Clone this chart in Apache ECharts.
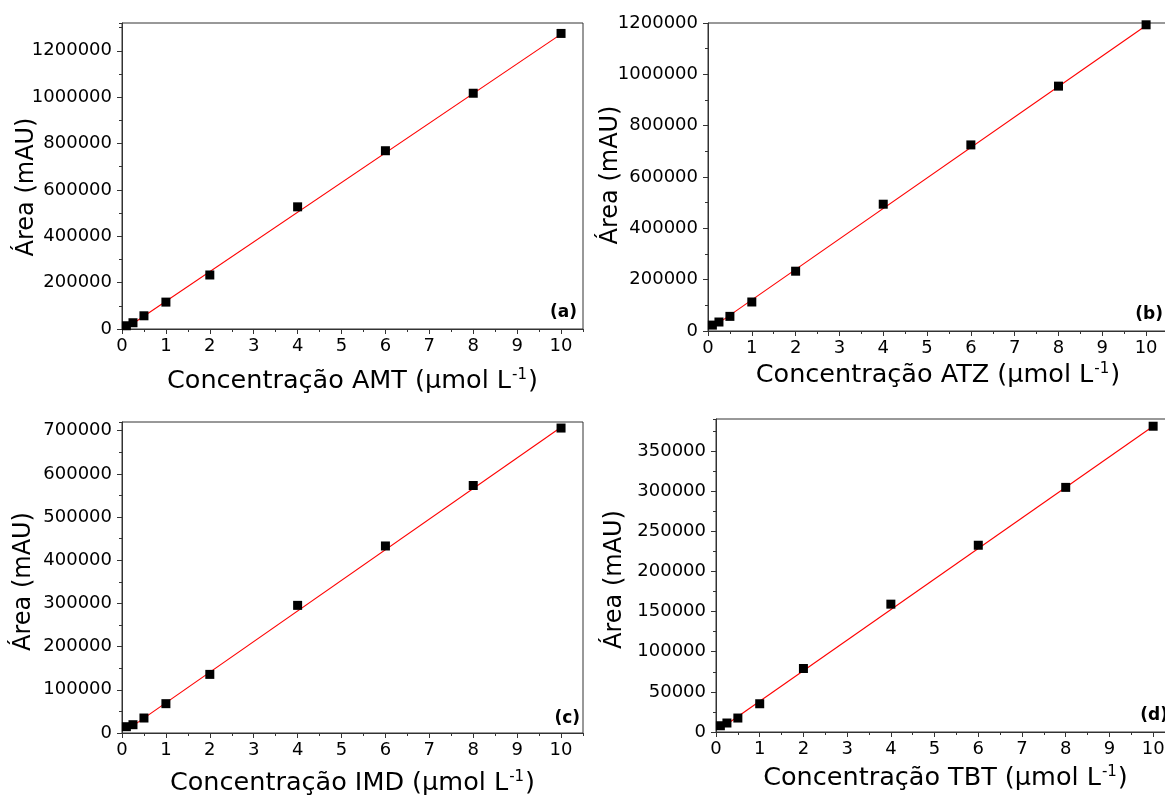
<!DOCTYPE html>
<html>
<head>
<meta charset="utf-8">
<script src="https://cdn.jsdelivr.net/npm/echarts@6/dist/echarts.min.js"></script>
<style>
html,body{margin:0;padding:0;background:#fff;}
#chart{width:1165px;height:796px;}
</style>
</head>
<body>
<div id="chart"></div>
<script>
// ---- data ----
const conc = [0.1, 0.25, 0.5, 1, 2, 4, 6, 8, 10];
const areaAMT = [14000, 27000, 57000, 116000, 233000, 527000, 769000, 1017000, 1275000];
const areaATZ = [23000, 35000, 57000, 113000, 233000, 494000, 725000, 954000, 1193000];
const areaIMD = [14600, 19200, 34700, 67900, 135700, 295500, 433000, 573000, 706000];
const areaTBT = [7800, 11200, 17400, 35200, 79100, 159300, 232700, 304800, 381000];
// fitted lines (end points)
const fitX = [0.1, 10];
const fitAMT = [4000, 1272000];
const fitATZ = [14000, 1190000];
const fitIMD = [6000, 708000];
const fitTBT = [4000, 381000];
// axis ranges / ticks
const xRange = [0, 10.5];
const xStep = 1, xMinorStep = 0.5;
const yRangeAMT = [0, 1320000], yStepAMT = 200000, yMinorAMT = 100000;
const yRangeATZ = [0, 1200000], yStepATZ = 200000, yMinorATZ = 100000;
const yRangeIMD = [0, 720000], yStepIMD = 100000, yMinorIMD = 50000;
const yRangeTBT = [0, 390000], yStepTBT = 50000, yMinorTBT = 25000;
const analytes = ['AMT', 'ATZ', 'IMD', 'TBT'];
const tags = ['(a)', '(b)', '(c)', '(d)'];
const yName = 'Área (mAU)';

const FONT = '"DejaVu Sans", sans-serif';
const AX = '#333';

const panels = [
  {grid:{left:122, top:23, width:461, height:306}, yr:yRangeAMT, ys:yStepAMT, ym:yMinorAMT, area:areaAMT, fit:fitAMT, tagXY:[577,313], yGap:83, yShift:11, xGap:39},
  {grid:{left:708, top:23, width:460, height:308}, yr:yRangeATZ, ys:yStepATZ, ym:yMinorATZ, area:areaATZ, fit:fitATZ, tagXY:[1163,315], yGap:85, yShift:-2, xGap:31},
  {grid:{left:122, top:422, width:461, height:311}, yr:yRangeIMD, ys:yStepIMD, ym:yMinorIMD, area:areaIMD, fit:fitIMD, tagXY:[580,719], yGap:86, yShift:4, xGap:37},
  {grid:{left:716, top:419, width:459, height:313}, yr:yRangeTBT, ys:yStepTBT, ym:yMinorTBT, area:areaTBT, fit:fitTBT, tagXY:[1168,716], yGap:89, yShift:4, xGap:33}
];

const grids = [], xAxes = [], yAxes = [], series = [], graphics = [];
panels.forEach((p, i) => {
  grids.push(Object.assign({show:true, borderColor:AX, borderWidth:1, backgroundColor:'transparent', containLabel:false, outerBoundsMode:'none'}, p.grid));
  const xName = 'Concentração ' + analytes[i] + ' (μmol L{sup|-1})';
  xAxes.push({
    type:'value', gridIndex:i, position:'bottom', min:xRange[0], max:xRange[1], interval:xStep,
    name:xName, nameLocation:'middle', nameGap:p.xGap, nameMoveOverlap:false,
    nameTextStyle:{fontFamily:FONT, fontSize:25.5, color:'#000',
      rich:{sup:{fontFamily:FONT, fontSize:15, color:'#000', verticalAlign:'top', padding:[0,1,0,1]}}},
    axisLine:{show:true, onZero:false, lineStyle:{color:AX, width:1}},
    axisTick:{show:true, inside:false, length:5, lineStyle:{color:AX, width:1}},
    axisLabel:{show:true, margin:8, fontFamily:FONT, fontSize:18, color:'#000', showMaxLabel:false, showMinLabel:true,
      formatter:v => String(v)},
    splitLine:{show:false}
  });
  xAxes.push({
    type:'value', gridIndex:i, position:'bottom', min:xRange[0], max:xRange[1], interval:xMinorStep,
    axisLine:{show:false}, axisLabel:{show:false}, splitLine:{show:false},
    axisTick:{show:true, inside:false, length:3, lineStyle:{color:AX, width:1}}
  });
  const pad = p.yShift > 0 ? [0, 2*p.yShift, 0, 0] : [0, 0, 0, -2*p.yShift];
  yAxes.push({
    type:'value', gridIndex:i, position:'left', min:p.yr[0], max:p.yr[1], interval:p.ys,
    name:yName, nameLocation:'middle', nameGap:p.yGap, nameMoveOverlap:false,
    nameTextStyle:{fontFamily:FONT, fontSize:24, color:'#000', padding:pad},
    axisLine:{show:true, onZero:false, lineStyle:{color:AX, width:1}},
    axisTick:{show:true, inside:false, length:5, lineStyle:{color:AX, width:1}},
    axisLabel:{show:true, margin:10, fontFamily:FONT, fontSize:18, color:'#000',
      showMaxLabel:(p.yr[1] % p.ys === 0), showMinLabel:true, formatter:v => String(v)},
    splitLine:{show:false}
  });
  yAxes.push({
    type:'value', gridIndex:i, position:'left', min:p.yr[0], max:p.yr[1], interval:p.ym,
    axisLine:{show:false}, axisLabel:{show:false}, splitLine:{show:false},
    axisTick:{show:true, inside:false, length:3, lineStyle:{color:AX, width:1}}
  });
  series.push({
    type:'line', xAxisIndex:2*i, yAxisIndex:2*i, data:fitX.map((x, k) => [x, p.fit[k]]),
    showSymbol:false, symbol:'none', lineStyle:{color:'#ff0000', width:1.1}, z:2, silent:true, animation:false
  });
  series.push({
    type:'scatter', xAxisIndex:2*i, yAxisIndex:2*i, data:conc.map((x, k) => [x, p.area[k]]),
    symbol:'rect', symbolSize:9, itemStyle:{color:'#000', opacity:1}, z:3, silent:true, animation:false
  });
  graphics.push({
    type:'text', x:p.tagXY[0], y:p.tagXY[1], z:10,
    style:{text:tags[i], font:'bold 17px ' + FONT, fill:'#000', textAlign:'right', textVerticalAlign:'middle'}
  });
});

const chart = echarts.init(document.getElementById('chart'), null, {renderer:'canvas'});
chart.setOption({
  animation:false,
  backgroundColor:'#fff',
  grid:grids, xAxis:xAxes, yAxis:yAxes, series:series, graphic:graphics
});
</script>
</body>
</html>
